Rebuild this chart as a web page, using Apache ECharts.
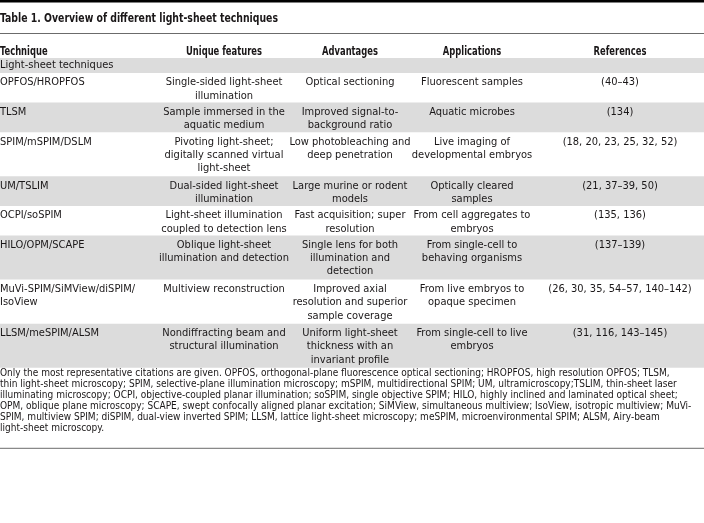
<!DOCTYPE html>
<html><head><meta charset="utf-8">
<script src="https://cdn.jsdelivr.net/npm/echarts@6/dist/echarts.min.js"></script>
<style>html,body{margin:0;padding:0;background:#fff}#c{width:704px;height:523px}</style>
</head><body><div id="c"></div>
<script>
// ---- data ----
const tableTitle = "Table 1. Overview of different light-sheet techniques";
const headers = ["Technique", "Unique features", "Advantages", "Applications", "References"];
const sectionLabel = "Light-sheet techniques";
const techniques = [
  "OPFOS/HROPFOS", "TLSM", "SPIM/mSPIM/DSLM", "UM/TSLIM", "OCPI/soSPIM",
  "HILO/OPM/SCAPE", "MuVi-SPIM/SiMView/diSPIM/\nIsoView", "LLSM/meSPIM/ALSM"
];
const features = [
  "Single-sided light-sheet\nillumination",
  "Sample immersed in the\naquatic medium",
  "Pivoting light-sheet;\ndigitally scanned virtual\nlight-sheet",
  "Dual-sided light-sheet\nillumination",
  "Light-sheet illumination\ncoupled to detection lens",
  "Oblique light-sheet\nillumination and detection",
  "Multiview reconstruction",
  "Nondiffracting beam and\nstructural illumination"
];
const advantages = [
  "Optical sectioning",
  "Improved signal-to-\nbackground ratio",
  "Low photobleaching and\ndeep penetration",
  "Large murine or rodent\nmodels",
  "Fast acquisition; super\nresolution",
  "Single lens for both\nillumination and\ndetection",
  "Improved axial\nresolution and superior\nsample coverage",
  "Uniform light-sheet\nthickness with an\ninvariant profile"
];
const applications = [
  "Fluorescent samples",
  "Aquatic microbes",
  "Live imaging of\ndevelopmental embryos",
  "Optically cleared\nsamples",
  "From cell aggregates to\nembryos",
  "From single-cell to\nbehaving organisms",
  "From live embryos to\nopaque specimen",
  "From single-cell to live\nembryos"
];
const references = [
  "(40–43)", "(134)", "(18, 20, 23, 25, 32, 52)", "(21, 37–39, 50)", "(135, 136)",
  "(137–139)", "(26, 30, 35, 54–57, 140–142)", "(31, 116, 143–145)"
];
const footnoteLines = [
  "Only the most representative citations are given. OPFOS, orthogonal-plane fluorescence optical sectioning; HROPFOS, high resolution OPFOS; TLSM,",
  "thin light-sheet microscopy; SPIM, selective-plane illumination microscopy; mSPIM, multidirectional SPIM; UM, ultramicroscopy;TSLIM, thin-sheet laser",
  "illuminating microscopy; OCPI, objective-coupled planar illumination; soSPIM, single objective SPIM; HILO, highly inclined and laminated optical sheet;",
  "OPM, oblique plane microscopy; SCAPE, swept confocally aligned planar excitation; SiMView, simultaneous multiview; IsoView, isotropic multiview; MuVi-",
  "SPIM, multiview SPIM; diSPIM, dual-view inverted SPIM; LLSM, lattice light-sheet microscopy; meSPIM, microenvironmental SPIM; ALSM, Airy-beam",
  "light-sheet microscopy."
];

// ---- layout / style ----
const FONT_FAMILY = "'Liberation Sans Narrow','DejaVu Sans Condensed','Roboto',sans-serif";
const TEXT = '#1a1718';
const GRAY = '#dcdcdc';
const colX = [0, 224, 350, 472, 620];
const colAlign = ['left', 'center', 'center', 'center', 'center'];
const LH = 13.3;
const bodyTop = 73;
const columns = [techniques, features, advantages, applications, references];

function nLines(i) {
  return Math.max.apply(null, columns.map(c => c[i].split('\n').length));
}
function rowHeight(i) { return 14.5 * nLines(i) + 0.6; }
const rowTops = [];
(function () { let t = bodyTop; for (let i = 0; i < techniques.length; i++) { rowTops.push(t); t += rowHeight(i); } rowTops.push(t); })();

const chart = echarts.init(document.getElementById('c'), null, { renderer: 'canvas' });

function txt(p, s, align, font, vAlign, sx) {
  return {
    type: 'text',
    x: p[0], y: p[1], scaleX: sx || 1,
    style: {
      text: s, x: 0, y: 0, align: align, verticalAlign: vAlign || 'top',
      font: font, fill: TEXT, lineHeight: LH
    }
  };
}

const option = {
  animation: false,
  grid: { left: 0, right: 0, top: 0, bottom: 0 },
  xAxis: { type: 'value', min: 0, max: 704, show: false },
  yAxis: { type: 'value', min: 0, max: 523, inverse: true, show: false },
  series: [
    {
      // static parts: title, header, section row, footnote, rules
      type: 'custom',
      data: [[0]],
      renderItem: function (params, api) {
        const ch = [];
        const a = api.coord([0, 0]), b = api.coord([704, 2.5]);
        ch.push({ type: 'rect', shape: { x: a[0], y: a[1], width: b[0] - a[0], height: b[1] - a[1] }, style: { fill: '#000' } });
        ch.push(txt(api.coord([0, 19]), tableTitle, 'left', "bold 12.5px " + FONT_FAMILY, 'middle', 0.83));
        const l1 = api.coord([0, 33.5]), l2 = api.coord([704, 33.5]);
        ch.push({ type: 'line', shape: { x1: l1[0], y1: l1[1], x2: l2[0], y2: l2[1] }, style: { stroke: '#6b6b6b', lineWidth: 1 } });
        headers.forEach((h, k) => ch.push(txt(api.coord([colX[k], 52]), h, colAlign[k], "bold 11.5px " + FONT_FAMILY, 'middle', 0.81)));
        const s1 = api.coord([0, 58]), s2 = api.coord([704, 73]);
        ch.push({ type: 'rect', shape: { x: s1[0], y: s1[1], width: s2[0] - s1[0], height: s2[1] - s1[1] }, style: { fill: GRAY } });
        ch.push(txt(api.coord([0, 65.5]), sectionLabel, 'left', "11px " + FONT_FAMILY, 'middle'));
        const fTop = rowTops[rowTops.length - 1];
        footnoteLines.forEach((l, k) => ch.push(txt(api.coord([0, fTop + 5.5 + 11 * k]), l, 'left', "10.5px " + FONT_FAMILY, 'middle', 0.955)));
        const by = fTop + 5.5 + 11 * (footnoteLines.length - 1) + 20;
        const b1 = api.coord([0, by]), b2 = api.coord([704, by]);
        ch.push({ type: 'line', shape: { x1: b1[0], y1: b1[1], x2: b2[0], y2: b2[1] }, style: { stroke: '#6b6b6b', lineWidth: 1 } });
        return { type: 'group', children: ch };
      }
    },
    {
      type: 'custom',
      data: techniques.map((t, i) => [i]),
      renderItem: function (params, api) {
        const i = api.value(0);
        const top = rowTops[i], bot = rowTops[i + 1];
        const ch = [];
        if (i % 2 === 1) {
          const p1 = api.coord([0, top]), p2 = api.coord([704, bot]);
          ch.push({ type: 'rect', shape: { x: p1[0], y: p1[1], width: p2[0] - p1[0], height: p2[1] - p1[1] }, style: { fill: GRAY } });
        }
        columns.forEach((col, k) => {
          ch.push(txt(api.coord([colX[k], top + 9.5 - LH / 2]), col[i], colAlign[k], "11px " + FONT_FAMILY, 'top'));
        });
        return { type: 'group', children: ch };
      }
    }
  ]
};
chart.setOption(option);
</script>
</body></html>
